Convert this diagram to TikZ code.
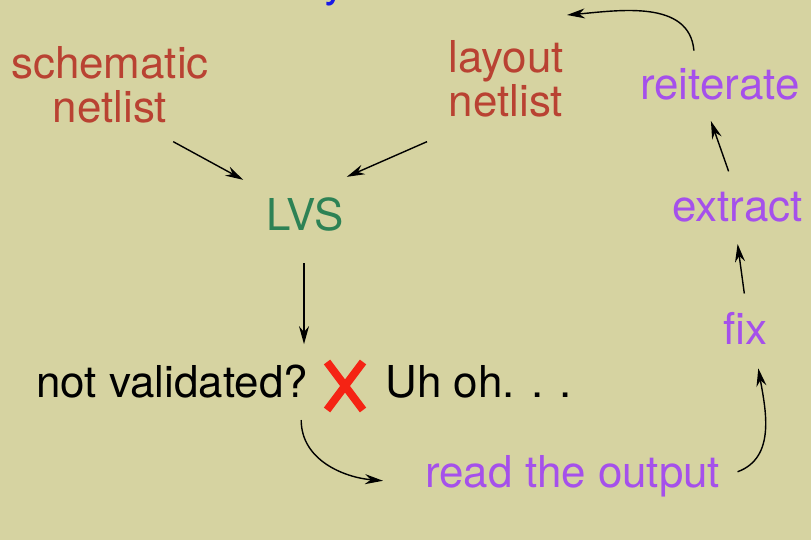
\documentclass[tikz,border=0pt]{standalone}
\usepackage{fontspec}
\setmainfont{TeX Gyre Heros}
\usetikzlibrary{arrows.meta}
\definecolor{bgkhaki}{RGB}{214,211,161}
\definecolor{netred}{RGB}{185,66,50}
\definecolor{lvsgreen}{RGB}{45,130,85}
\definecolor{loopviolet}{RGB}{165,80,235}
\definecolor{crossred}{RGB}{245,35,20}
\definecolor{titleblue}{RGB}{25,25,230}
\tikzset{
  txt/.style={inner sep=0pt, font=\fontsize{25}{25}\selectfont},
  netlbl/.style={txt, text=netred, align=center},
  loopl/.style={txt, text=loopviolet},
  arr/.style={->, line width=0.8pt},
}
\begin{document}
\begin{tikzpicture}[x=0.02cm, y=0.02cm, >={Stealth[length=3.6mm,width=2mm]}]
    % Background
    \fill[bgkhaki] (0,0) rectangle (811,-540);
    \useasboundingbox (0,0) rectangle (811,-540);
    % Title (cut off)
    \node[txt, text=titleblue, anchor=base west] (title) at (324,3) {y};

    % Netlists and LVS
    \node[netlbl] (schem) at (110,-85) {schematic\\netlist};
    \node[netlbl] (layout) at (506,-79) {layout\\netlist};
    \node[txt, text=lvsgreen, anchor=base] (lvs) at (305,-231) {LVS};

    % Result line
    \node[txt, anchor=base west] (notval) at (36,-398) {not validated?};
    \node[txt, anchor=base west] (uhoh) at (385,-398) {Uh oh. . .};
    \draw[crossred, line width=4.5pt] (327,-362) -- (363,-410) (363,-362) -- (327,-410);

    % Loop
    \node[loopl, anchor=base west] (readout) at (425,-487) {read the output};
    \node[loopl, anchor=base west] (fix) at (723,-345) {fix};
    \node[loopl, anchor=base west] (extract) at (672,-222) {extract};
    \node[loopl, anchor=base west] (reiter) at (640,-100) {reiterate};
    \coordinate (loopend) at (567,-15);

    % Arrows
    \draw[arr] ([shift={(-36,-18)}]schem.south east) -- ([shift={(-23,18)}]lvs.north west);
    \draw[arr] ([shift={(-21,-24)}]layout.south west) -- ([shift={(3,21)}]lvs.north east);
    \draw[arr] ([shift={(-1,-31)}]lvs.south) -- ([shift={(-1,-112)}]lvs.south);
    \draw[arr] ([shift={(-7,-21)}]notval.south east) to[out=-90, in=175] ([shift={(-42,-5)}]readout.west);
    \draw[arr] ([shift={(17,4)}]readout.east) to[out=20, in=-80] ([shift={(13,-23)}]fix.south);
    \draw[arr] ([shift={(-1,19)}]fix.north) -- ([shift={(0,-21)}]extract.south);
    \draw[arr] ([shift={(-9,21)}]extract.north) -- ([shift={(-9,-20)}]reiter.south);
    \draw[arr] ([shift={(-26,18)}]reiter.north) to[out=95, in=5] (loopend);
\end{tikzpicture}
\end{document}
